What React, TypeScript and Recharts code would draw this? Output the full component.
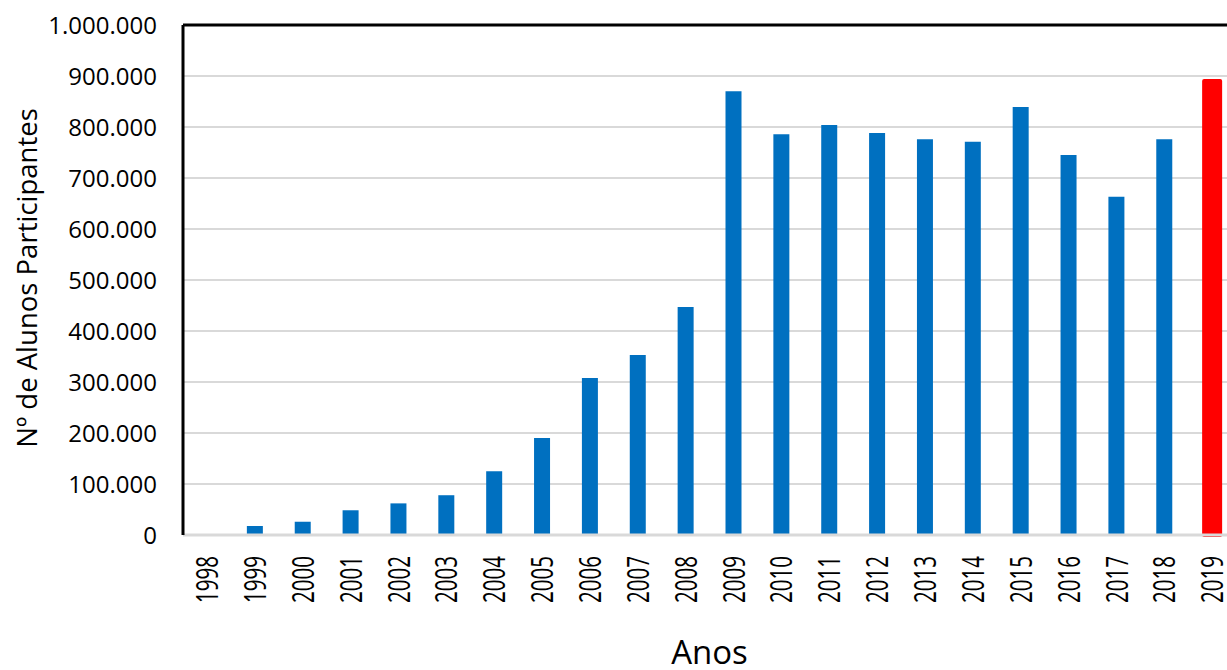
import React from "react";
import {
  BarChart,
  Bar,
  Cell,
  XAxis,
  YAxis,
  CartesianGrid,
  ReferenceLine,
  Label,
} from "recharts";

const years = [
  "1998", "1999", "2000", "2001", "2002", "2003", "2004", "2005", "2006", "2007", "2008",
  "2009", "2010", "2011", "2012", "2013", "2014", "2015", "2016", "2017", "2018", "2019",
];

const participants = [
  0, 17500, 26000, 48500, 62000, 78000, 125000, 190000, 308000, 353000, 447000,
  870000, 786000, 804000, 788000, 776000, 771000, 839000, 745000, 663000, 776000, 890000,
];

const yTicks = [0, 100000, 200000, 300000, 400000, 500000, 600000, 700000, 800000, 900000, 1000000];

const highlightYear = "2019";

const data = years.map((year, i) => ({ year, value: participants[i] }));

const FONT = "'Open Sans', 'Noto Sans', sans-serif";

const fmt = (v: number) => (v === 0 ? "0" : String(v).replace(/\B(?=(\d{3})+(?!\d))/g, "."));

function YearTick({ x, y, payload }: { x?: number; y?: number; payload?: { value: string } }) {
  return (
    <g transform={`translate(${x},${(y ?? 0) + 13}) rotate(-90)`}>
      <text
        textAnchor="end"
        dy="0.36em"
        fontFamily={FONT}
        fontSize={31}
        fill="#000"
        textLength={47}
        lengthAdjust="spacingAndGlyphs"
      >
        {payload?.value}
      </text>
    </g>
  );
}

export default function App() {
  return (
    <div style={{ position: "absolute", left: 0, top: 0, width: 1227, height: 670, overflow: "hidden", background: "#fff" }}>
      <BarChart width={1240} height={670} data={data} margin={{ top: 25, right: 4, left: 0, bottom: 0 }}>
        <CartesianGrid horizontal vertical={false} stroke="#d9d9d9" strokeWidth={2} />
        <XAxis
          dataKey="year"
          height={135}
          interval={0}
          tickLine={false}
          axisLine={{ stroke: "#d9d9d9", strokeWidth: 3 }}
          tick={<YearTick />}
        >
          <Label
            content={({ viewBox }: any) => (
              <text
                x={viewBox.x + viewBox.width / 2}
                y={viewBox.y + viewBox.height - 6}
                textAnchor="middle"
                fontFamily={FONT}
                fontSize={33}
                fill="#000"
              >
                Anos
              </text>
            )}
          />
        </XAxis>
        <YAxis
          width={183}
          domain={[0, 1000000]}
          ticks={yTicks}
          interval={0}
          tickLine={false}
          tickMargin={20}
          axisLine={{ stroke: "#000", strokeWidth: 3 }}
          tickFormatter={fmt}
          tick={{ fontFamily: FONT, fontSize: 24, fill: "#000" }}
        >
          <Label
            content={({ viewBox }: any) => {
              const cx = 27;
              const cy = viewBox.y + viewBox.height / 2 - 2;
              return (
                <text
                  x={cx}
                  y={cy}
                  transform={`rotate(-90 ${cx} ${cy})`}
                  textAnchor="middle"
                  dy="0.36em"
                  fontFamily={FONT}
                  fontSize={27.5}
                  fill="#000"
                >
                  Nº de Alunos Participantes
                </text>
              );
            }}
          />
        </YAxis>
        <ReferenceLine y={1000000} stroke="#000" strokeWidth={3} />
        <Bar dataKey="value" barSize={16} isAnimationActive={false}>
          {data.map((d) =>
            d.year === highlightYear ? (
              <Cell key={d.year} fill="#ff0000" stroke="#ff0000" strokeWidth={4} strokeLinejoin="round" />
            ) : (
              <Cell key={d.year} fill="#0070c0" />
            )
          )}
        </Bar>
      </BarChart>
    </div>
  );
}
